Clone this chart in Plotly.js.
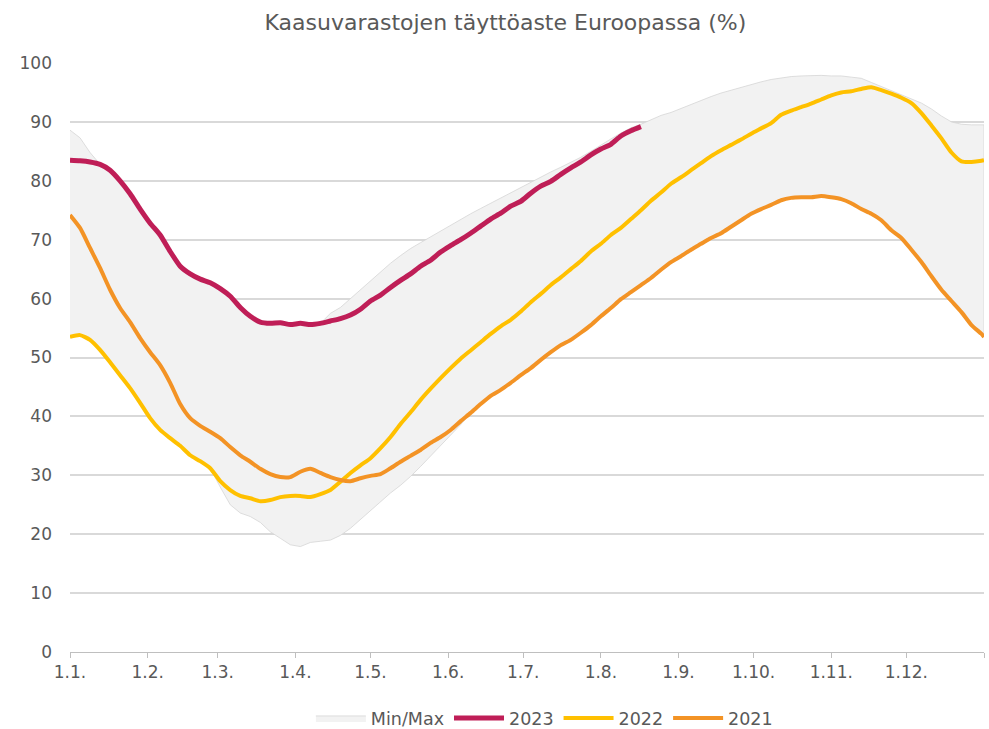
<!DOCTYPE html>
<html>
<head>
<meta charset="utf-8">
<script src="https://cdn.plot.ly/plotly-3.0.1.min.js"></script>
<style>html,body{margin:0;padding:0;background:#fff;}#chart{width:989px;height:729px;}</style>
</head>
<body>
<div id="chart"></div>
<script>
// Day of year (0 = 1.1.), sampled every 4 days, plus year end
const days = [];
for (let d = 0; d <= 364; d += 4) days.push(d);
days.push(365);

const monthTickDays = [0, 31, 59, 90, 120, 151, 181, 212, 243, 273, 304, 334, 365];
const monthTickLabels = ['1.1.', '1.2.', '1.3.', '1.4.', '1.5.', '1.6.', '1.7.', '1.8.', '1.9.', '1.10.', '1.11.', '1.12.', ''];

const y2023 = [83.5, 83.4, 83.2, 82.8, 81.8, 80.0, 77.8, 75.2, 72.8, 70.8,
  68.0, 65.5, 64.2, 63.3, 62.7, 61.7, 60.4, 58.5, 57.0, 56.0,
  55.8, 55.9, 55.6, 55.8, 55.6, 55.8, 56.2, 56.6, 57.2, 58.2,
  59.6, 60.6, 61.9, 63.1, 64.2, 65.5, 66.5, 67.9, 69.0, 70.0,
  71.1, 72.3, 73.5, 74.5, 75.7, 76.5, 77.9, 79.1, 79.9, 81.1,
  82.2, 83.2, 84.4, 85.4, 86.2, 87.6, 88.5, 89.2];

const y2022 = [53.5, 53.8, 53.0, 51.3, 49.2, 47.0, 44.8, 42.3, 39.7, 37.7,
  36.3, 35.0, 33.4, 32.4, 31.2, 29.0, 27.5, 26.5, 26.1, 25.6,
  25.8, 26.3, 26.5, 26.5, 26.3, 26.8, 27.5, 28.9, 30.4, 31.7,
  32.9, 34.6, 36.5, 38.7, 40.7, 42.8, 44.7, 46.5, 48.2, 49.8,
  51.2, 52.6, 54.0, 55.3, 56.4, 57.8, 59.4, 60.8, 62.3, 63.6,
  65.0, 66.4, 68.0, 69.3, 70.8, 72.0, 73.5, 75.0, 76.6, 78.0,
  79.5, 80.6, 81.8, 83.0, 84.2, 85.2, 86.1, 87.0, 88.0, 88.9,
  89.8, 91.2, 91.9, 92.5, 93.1, 93.8, 94.5, 95.0, 95.2, 95.6,
  95.9, 95.4, 94.8, 94.1, 93.2, 91.5, 89.4, 87.2, 84.8, 83.3,
  83.2, 83.4, 83.5];

const y2021 = [74.2, 72.0, 68.6, 65.2, 61.5, 58.4, 56.0, 53.3, 50.9, 48.7,
  45.7, 42.1, 39.7, 38.4, 37.4, 36.3, 34.8, 33.4, 32.3, 31.1,
  30.2, 29.7, 29.7, 30.6, 31.1, 30.4, 29.7, 29.2, 29.0, 29.5,
  29.9, 30.2, 31.2, 32.3, 33.3, 34.3, 35.5, 36.5, 37.7, 39.2,
  40.6, 42.1, 43.5, 44.5, 45.7, 47.0, 48.2, 49.6, 50.9, 52.1,
  53.0, 54.2, 55.5, 57.0, 58.4, 59.9, 61.1, 62.3, 63.5, 64.9,
  66.2, 67.2, 68.3, 69.3, 70.3, 71.1, 72.2, 73.3, 74.4, 75.2,
  75.9, 76.7, 77.1, 77.2, 77.2, 77.4, 77.2, 76.9, 76.2, 75.2,
  74.4, 73.3, 71.6, 70.3, 68.3, 66.2, 63.8, 61.5, 59.6, 57.7,
  55.5, 54.0, 53.5];

const bandMax = [88.6, 87.3, 84.8, 82.8, 81.8, 80.0, 77.8, 75.2, 72.8, 70.8,
  68.0, 65.5, 64.2, 63.3, 62.7, 61.7, 60.4, 58.5, 57.0, 56.0,
  55.8, 55.9, 55.6, 55.8, 55.6, 55.8, 57.5, 58.5, 60.0, 61.5,
  63.0, 64.5, 66.0, 67.3, 68.5, 69.5, 70.5, 71.5, 72.5, 73.5,
  74.4, 75.3, 76.2, 77.1, 78.0, 78.9, 79.8, 80.7, 81.5, 82.3,
  83.1, 84.0, 85.0, 86.1, 87.1, 88.1, 89.0, 89.6, 90.4, 91.1,
  91.6, 92.3, 93.0, 93.6, 94.3, 94.9, 95.4, 95.8, 96.3, 96.8,
  97.2, 97.5, 97.7, 97.8, 97.9, 97.9, 97.8, 97.8, 97.6, 97.4,
  96.7, 96.0, 95.3, 94.6, 93.9, 93.2, 92.2, 91.0, 90.0, 89.6,
  89.5, 89.5, 89.5];

const bandMin = [53.5, 53.8, 53.0, 51.3, 49.2, 47.0, 44.8, 42.3, 39.7, 37.7,
  36.3, 35.0, 33.4, 32.4, 31.2, 28.0, 25.0, 23.6, 23.0, 22.0,
  20.4, 19.3, 18.2, 17.9, 18.6, 18.8, 19.0, 19.8, 21.0, 22.5,
  24.0, 25.5, 27.0, 28.3, 29.8, 31.5, 33.2, 35.0, 36.8, 38.6,
  40.6, 42.1, 43.5, 44.5, 45.7, 47.0, 48.2, 49.6, 50.9, 52.1,
  53.0, 54.2, 55.5, 57.0, 58.4, 59.9, 61.1, 62.3, 63.5, 64.9,
  66.2, 67.2, 68.3, 69.3, 70.3, 71.1, 72.2, 73.3, 74.4, 75.2,
  75.9, 76.7, 77.1, 77.2, 77.2, 77.4, 77.2, 76.9, 76.2, 75.2,
  74.4, 73.3, 71.6, 70.3, 68.3, 66.2, 63.8, 61.5, 59.6, 57.7,
  55.5, 54.0, 53.5];

const FONT = 'DejaVu Sans, Verdana, sans-serif';
const TXT = '#595959';

const bandX = days.concat(days.slice().reverse());
const bandY = bandMax.concat(bandMin.slice().reverse());

const traces = [
  {
    name: 'Min/Max', x: bandX, y: bandY, type: 'scatter', mode: 'lines',
    fill: 'toself', fillcolor: '#f2f2f2',
    line: {color: '#d6d6d6', width: 0.8}, hoverinfo: 'skip'
  },
  {
    name: '2023', x: days.slice(0, y2023.length), y: y2023, type: 'scatter', mode: 'lines',
    line: {color: '#BF1E57', width: 5, shape: 'spline', smoothing: 0.6}
  },
  {
    name: '2022', x: days, y: y2022, type: 'scatter', mode: 'lines',
    line: {color: '#FFC000', width: 4, shape: 'spline', smoothing: 0.6}
  },
  {
    name: '2021', x: days, y: y2021, type: 'scatter', mode: 'lines',
    line: {color: '#F39325', width: 4, shape: 'spline', smoothing: 0.6}
  }
];

const layout = {
  width: 989, height: 729,
  paper_bgcolor: '#ffffff', plot_bgcolor: '#ffffff',
  margin: {l: 70, r: 5, t: 63, b: 77},
  font: {family: FONT, color: TXT, size: 17},
  title: {
    text: 'Kaasuvarastojen täyttöaste Euroopassa (%)',
    x: 0.511, xanchor: 'center', xref: 'container',
    y: 0.970, yanchor: 'middle', yref: 'container',
    font: {family: FONT, size: 22, color: TXT}
  },
  xaxis: {
    range: [0, 365], tickmode: 'array', tickvals: monthTickDays, ticktext: monthTickLabels,
    showgrid: false, zeroline: false, showline: true, linecolor: '#bfbfbf', linewidth: 1,
    ticks: 'outside', ticklen: 5, tickcolor: '#bfbfbf', tickwidth: 1,
    tickfont: {family: FONT, size: 17, color: TXT}, fixedrange: true, automargin: false
  },
  yaxis: {
    range: [0, 100], dtick: 10, showgrid: true, gridcolor: '#d9d9d9', gridwidth: 2,
    zeroline: false, showline: false, ticks: '', ticklabelstandoff: 17,
    tickfont: {family: FONT, size: 17, color: TXT}, fixedrange: true, automargin: false
  },
  showlegend: true,
  legend: {
    orientation: 'h', x: 0.519, xanchor: 'center', xref: 'paper',
    y: 0.015, yanchor: 'middle', yref: 'container',
    font: {family: FONT, size: 17.5, color: TXT}, itemwidth: 50, traceorder: 'normal',
    bgcolor: 'rgba(0,0,0,0)'
  }
};

Plotly.newPlot('chart', traces, layout, {displayModeBar: false, staticPlot: true});
</script>
</body>
</html>
